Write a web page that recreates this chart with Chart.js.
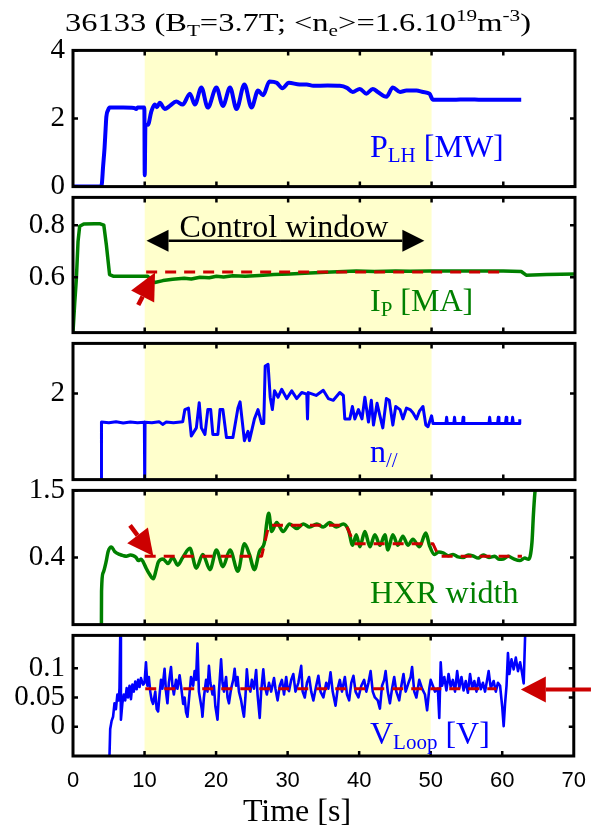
<!DOCTYPE html>
<html><head><meta charset="utf-8">
<script src="https://cdn.jsdelivr.net/npm/chart.js@4/dist/chart.umd.min.js"></script>
<style>
html,body{margin:0;padding:0;background:#fff;}
#wrap{position:relative;width:598px;height:830px;overflow:hidden;font-family:"Liberation Serif","Times New Roman",serif;}
canvas{position:absolute;left:0;}
.lab{position:absolute;white-space:nowrap;font-size:32px;line-height:32px;z-index:5;}
.lab .s{font-size:21px;position:relative;top:5px;}
#title{position:absolute;left:65px;top:10px;font-size:26px;line-height:26px;white-space:nowrap;color:#000;z-index:5;transform:scaleX(1.25);transform-origin:0 0;}
#title .s{font-size:17px;position:relative;top:5px;}
#title .p{font-size:17px;position:relative;top:-10px;}
#xt{position:absolute;left:0;width:594px;text-align:center;top:794px;font-size:32px;line-height:32px;z-index:5;}
</style></head>
<body><div id="wrap">
<div id="title">36133 (B<span class="s">T</span>=3.7T; &lt;n<span class="s">e</span>&gt;=1.6.10<span class="p">19</span>m<span class="p">-3</span>)</div>
<canvas id="c1"></canvas><canvas id="c2"></canvas><canvas id="c3"></canvas><canvas id="c4"></canvas><canvas id="c5"></canvas>
<div class="lab" style="left:370px;top:130px;color:#0000ff">P<span class="s">LH</span> [MW]</div>
<div class="lab" style="left:370px;top:284px;color:#008000">I<span class="s">P</span> [MA]</div>
<div class="lab" style="left:370px;top:435px;color:#0000ff">n<span class="s">//</span></div>
<div class="lab" style="left:370px;top:576px;color:#008000">HXR width</div>
<div class="lab" style="left:370px;top:717px;color:#0000ff">V<span class="s">Loop</span> [V]</div>
<div id="xt">Time [s]</div>
</div>
<script>
// ---------------- DATA ----------------
const xTickValues = [0,10,20,30,40,50,60,70];
const controlWindow = [10, 50];

const ticksPLH = [0,2,4];
const ticksIP = [0.6,0.8];
const ticksNpar = [2];
const ticksHXR = [0.4,1.5];
const ticksVL = [0,0.05,0.1];

const plhT = [0,3.8,4.0,4.2,4.4,4.55,4.65,4.9,5.1,7.0,8.5,8.8,9.0,9.95,10.0,10.1,10.46,10.9,11.4,11.7,12.1,12.8,13.5,14.4,15.3,16.3,17.0,17.9,18.8,20.0,20.9,21.9,22.8,23.9,24.9,25.8,26.5,27.4,28.4,29.2,30.1,31.6,32.6,33.5,35.5,37.2,38.2,39.0,40.0,40.9,41.8,42.5,43.7,44.6,45.6,46.5,47.9,48.8,49.7,50.2,53,55,57,60,62.5];
const plhV = [0,0,0.05,0.6,1.14,1.7,2.05,2.25,2.32,2.32,2.31,2.28,2.32,2.32,0.33,1.8,1.82,2.19,2.41,2.33,2.46,2.28,2.37,2.5,2.41,2.73,2.41,2.91,2.32,2.91,2.37,2.91,2.28,3.0,2.32,2.82,2.68,3.09,3.05,2.89,3.05,3.0,3.0,2.96,2.97,2.96,2.9,2.78,2.87,2.73,2.87,2.78,2.64,2.91,2.78,2.82,2.82,2.78,2.73,2.55,2.55,2.56,2.55,2.55,2.55];

const ipT = [0,0.24,0.47,0.7,0.93,1.5,3.0,3.7,4.3,4.65,5.1,5.6,8,10.4,11.0,11.4,12.55,13.9,15.5,16.5,17.7,19,20,21,22.3,24,26,28,30.2,33,36,39.5,42,45,47,49.7,55,60.0,62.5,63.2,66,70];
const ipV = [0.39,0.50,0.594,0.737,0.796,0.805,0.806,0.806,0.80,0.725,0.61,0.604,0.604,0.604,0.585,0.58,0.587,0.592,0.596,0.593,0.60,0.598,0.604,0.601,0.606,0.604,0.607,0.610,0.612,0.616,0.62,0.624,0.622,0.624,0.623,0.624,0.624,0.624,0.622,0.608,0.61,0.612];
const ipRefT = [10.2,60];
const ipRefV = [0.62,0.62];

const nparT = [3.96,3.97,5,6,7,8,9,9.95,10.0,10.05,11,12,12.5,13,14,15.3,15.6,16.1,16.5,17.2,17.6,17.9,18.4,18.8,19.2,19.5,20.2,20.5,20.9,21.4,22.3,23.0,23.3,23.9,24.4,24.6,25.3,25.8,26.3,26.6,26.8,27.2,27.5,27.8,28.1,28.6,29.1,29.8,30.5,31.2,31.9,32.6,32.7,32.8,33.9,34.9,35.6,36.3,37.2,37.7,37.9,38.6,38.96,39.3,39.8,40.3,40.7,41.2,41.6,41.9,42.4,42.8,43.2,43.7,44.1,44.6,45.0,45.6,46.0,46.5,47.0,47.4,47.9,48.3,48.8,49.2,49.5,50.0,50.2,52.0,52.1,52.2,53.1,53.2,53.3,54.3,54.4,54.5,58.0,58.1,58.2,59.2,59.3,59.4,60.3,60.4,60.5,61.2,61.3,61.4,62.2,62.3];
const nparV = [1.45,1.834,1.83,1.835,1.828,1.834,1.83,1.832,1.45,1.832,1.83,1.836,1.82,1.834,1.83,1.835,1.906,1.915,1.753,1.80,1.946,1.80,1.762,1.906,1.906,1.762,1.762,1.906,1.906,1.744,1.744,1.915,1.951,1.726,1.78,1.726,1.852,1.906,1.825,1.825,2.159,2.168,1.978,1.906,2.015,1.978,2.024,1.97,2.015,1.97,2.005,1.996,1.852,2.005,1.988,2.018,1.97,1.96,2.005,1.988,1.852,1.852,1.924,1.852,1.906,1.852,1.978,1.834,1.96,1.816,1.943,1.87,1.80,1.97,1.96,1.816,1.924,1.906,1.852,1.915,1.906,1.888,1.852,1.897,1.924,1.816,1.807,1.87,1.825,1.825,1.861,1.825,1.825,1.861,1.825,1.825,1.861,1.825,1.825,1.861,1.825,1.825,1.861,1.825,1.825,1.861,1.825,1.825,1.861,1.825,1.825,1.85];

const hxrT = [3.96,3.98,4.2,4.65,4.9,5.35,5.8,6.5,7.0,7.45,8.0,8.4,8.8,9.1,9.5,9.8,10.2,10.7,11.2,11.6,11.9,12.55,13.25,13.9,14.6,15.3,16.3,17.2,18.1,19.1,20.0,20.9,21.9,23.0,23.9,24.6,25.3,26.0,26.7,27.0,27.3,27.7,28.4,29.3,30.2,31.2,32.1,33.0,34.0,34.9,35.8,36.7,37.7,38.4,39.0,39.5,40.0,40.7,41.4,42.1,42.8,43.5,43.9,44.6,45.3,46.0,46.7,47.4,48.3,49.2,49.7,50.4,51.0,51.6,52.3,53.0,53.7,54.4,55.1,55.8,56.5,57.2,58.0,58.8,59.4,60.0,60.7,61.4,62.3,63.0,63.5,64.0,64.2,64.4,64.5];
const hxrV = [-0.75,-0.15,0.15,0.35,0.5,0.574,0.5,0.45,0.43,0.42,0.44,0.43,0.40,0.35,0.37,0.325,0.224,0.12,0.05,0.2,0.325,0.375,0.3,0.4,0.275,0.4,0.55,0.224,0.45,0.2,0.525,0.25,0.525,0.175,0.625,0.45,0.2,0.5,0.65,0.95,1.125,0.825,0.975,0.825,0.95,0.875,0.95,0.9,0.95,0.9,0.975,0.9,0.95,0.85,0.6,0.775,0.575,0.825,0.575,0.775,0.6,0.775,0.525,0.775,0.6,0.75,0.6,0.7,0.575,0.8,0.6,0.45,0.49,0.475,0.43,0.45,0.41,0.4,0.44,0.425,0.39,0.44,0.4,0.42,0.37,0.375,0.42,0.38,0.35,0.39,0.37,0.65,1.1,1.45,1.55];
const hxrRefT = [10,26.3,27.3,38.1,39.2,50.2,51.0,62.6];
const hxrRefV = [0.42,0.42,0.93,0.93,0.625,0.625,0.42,0.42];

const vlT = [5.1,5.2,5.4,5.6,5.8,6.0,6.2,6.4,6.5,6.6,6.7,6.9,7.1,7.3,7.5,7.7,7.9,8.1,8.3,8.5,8.7,8.9,9.1,9.3,9.5,9.8,10.0,10.2,10.4,10.6,10.8,11.0,11.2,11.5,11.7,11.9,12.1,12.3,12.5,12.8,13.0,13.2,13.4,13.7,13.9,14.1,14.4,14.6,14.9,15.1,15.4,15.6,15.8,16.0,16.2,16.5,16.8,17.0,17.2,17.4,17.6,17.8,18.0,18.1,18.3,18.6,18.8,19.0,19.2,19.5,19.7,19.9,20.2,20.4,20.7,20.9,21.1,21.4,21.6,21.8,22.1,22.4,22.6,22.8,23.0,23.2,23.5,23.7,23.9,24.1,24.3,24.5,24.8,25.0,25.3,25.6,25.8,26.1,26.3,26.6,26.8,27.1,27.4,27.7,28.1,28.3,28.6,28.9,29.2,29.5,29.8,30.0,30.2,30.5,30.8,31.1,31.5,31.9,32.1,32.4,32.7,33.0,33.3,33.6,34.0,34.3,34.6,35.0,35.4,35.7,36.0,36.3,36.7,37.0,37.3,37.6,38.0,38.3,38.6,38.9,39.2,39.5,39.9,40.3,40.7,41.0,41.3,41.6,41.9,42.2,42.6,42.9,43.2,43.5,43.7,44.0,44.3,44.6,44.9,45.2,45.6,45.9,46.2,46.5,46.9,47.2,47.4,47.7,48.0,48.4,48.8,49.2,49.5,49.8,50.0,50.3,50.6,51.0,51.2,51.4,51.6,51.9,52.2,52.5,52.8,53.1,53.4,53.7,54.0,54.3,54.6,54.9,55.2,55.5,55.8,56.1,56.4,56.7,57.0,57.3,57.6,58.1,58.4,58.8,59.1,59.4,59.7,60.0,60.2,60.4,60.6,60.8,61.0,61.3,61.6,61.9,62.2,62.5,62.8,63.0,63.2];
const vlV = [-0.05,-0.004,0.010,0.017,0.040,0.030,0.055,0.045,0.066,0.153,0.012,0.040,0.055,0.045,0.066,0.050,0.070,0.047,0.072,0.060,0.077,0.064,0.080,0.068,0.083,0.072,0.075,0.110,0.070,0.085,0.060,0.045,0.039,0.060,0.030,0.026,0.055,0.080,0.065,0.099,0.060,0.040,0.075,0.102,0.070,0.055,0.080,0.065,0.088,0.070,0.039,0.050,0.025,0.017,0.045,0.085,0.070,0.095,0.080,0.142,0.060,0.045,0.030,0.017,0.050,0.080,0.060,0.104,0.075,0.055,0.070,0.035,0.012,0.060,0.115,0.075,0.060,0.085,0.050,0.040,0.065,0.080,0.099,0.070,0.085,0.060,0.045,0.030,0.017,0.050,0.098,0.070,0.060,0.080,0.065,0.097,0.055,0.015,0.060,0.098,0.070,0.055,0.075,0.060,0.083,0.065,0.045,0.070,0.080,0.055,0.085,0.065,0.061,0.080,0.090,0.060,0.075,0.104,0.060,0.050,0.075,0.085,0.060,0.045,0.070,0.087,0.060,0.050,0.075,0.065,0.093,0.060,0.036,0.065,0.080,0.060,0.085,0.055,0.045,0.075,0.087,0.060,0.050,0.070,0.080,0.060,0.075,0.095,0.060,0.050,0.045,0.031,0.070,0.080,0.095,0.060,0.040,0.065,0.085,0.060,0.045,0.070,0.090,0.060,0.075,0.085,0.102,0.060,0.050,0.080,0.065,0.055,0.028,0.065,0.080,0.070,0.060,0.065,0.015,0.110,0.070,0.085,0.062,0.090,0.068,0.080,0.060,0.095,0.066,0.085,0.062,0.078,0.058,0.090,0.066,0.078,0.060,0.083,0.064,0.075,0.060,0.095,0.066,0.078,0.060,0.075,0.070,0.034,0.001,0.040,0.070,0.126,0.090,0.115,0.098,0.118,0.095,0.110,0.090,0.074,0.155];
const vlRefT = [10.1,59.2];
const vlRefV = [0.0647,0.0647];

// ---------------- STYLE / LAYOUT ----------------
const BLUE = '#0000ff', GREEN = '#008000', RED = '#cc0000', YELLOW = '#ffffcc';
const SERIF = '"Liberation Serif","Times New Roman",serif';
const SANS = '"Liberation Sans",Arial,sans-serif';
const PAD = 20, W = 598, RIGHT_PAD = 23, YAXIS_W = 73;

const pts = (t, v) => t.map((x, i) => ({x, y: v[i]}));

function drawArrow(ctx, x1, y1, x2, y2, headLen, headHalf, lw, color) {
  const a = Math.atan2(y2 - y1, x2 - x1);
  const bx = x2 - headLen * Math.cos(a), by = y2 - headLen * Math.sin(a);
  ctx.save();
  ctx.strokeStyle = color; ctx.fillStyle = color; ctx.lineWidth = lw;
  ctx.beginPath(); ctx.moveTo(x1, y1); ctx.lineTo(bx, by); ctx.stroke();
  ctx.beginPath();
  ctx.moveTo(x2, y2);
  ctx.lineTo(bx + headHalf * Math.sin(a), by - headHalf * Math.cos(a));
  ctx.lineTo(bx - headHalf * Math.sin(a), by + headHalf * Math.cos(a));
  ctx.closePath(); ctx.fill();
  ctx.restore();
}

const bandPlugin = {
  id: 'band',
  beforeDatasetsDraw(chart) {
    const {ctx, chartArea: a, scales: {x}} = chart;
    ctx.save();
    ctx.fillStyle = YELLOW;
    const x0 = x.getPixelForValue(controlWindow[0]), x1 = x.getPixelForValue(controlWindow[1]);
    ctx.fillRect(x0, a.top, x1 - x0, a.bottom - a.top);
    ctx.restore();
  }
};

const framePlugin = {
  id: 'frame',
  afterDatasetsDraw(chart) {
    const {ctx, chartArea: a, scales: {x, y}} = chart;
    ctx.save();
    ctx.strokeStyle = '#000'; ctx.lineWidth = 2.5;
    ctx.beginPath();
    xTickValues.slice(1, -1).forEach(v => {
      const px = x.getPixelForValue(v);
      ctx.moveTo(px, a.top); ctx.lineTo(px, a.top + 5);
      ctx.moveTo(px, a.bottom); ctx.lineTo(px, a.bottom - 5);
    });
    y.ticks.forEach(t => {
      const py = y.getPixelForValue(t.value);
      ctx.moveTo(a.left, py); ctx.lineTo(a.left + 5, py);
      ctx.moveTo(a.right, py); ctx.lineTo(a.right - 5, py);
    });
    ctx.stroke();
    ctx.lineWidth = 3;
    ctx.strokeRect(a.left, a.top, a.right - a.left, a.bottom - a.top);
    ctx.restore();
  }
};

const smooth = {cubicInterpolationMode:'monotone', tension:0.4};

const panels = [
  {id:'c1', top:45, bottom:192, min:0, max:4, ticks:ticksPLH,
   datasets:[Object.assign({data:pts(plhT, plhV), borderColor:BLUE, borderWidth:4}, smooth)]},
  {id:'c2', top:192, bottom:338, min:0.387, max:0.907, ticks:ticksIP,
   datasets:[{data:pts(ipRefT, ipRefV), borderColor:RED, borderWidth:3, borderDash:[11,8]},
             {data:pts(ipT, ipV), borderColor:GREEN, borderWidth:3.5}],
   extra(chart) {
     const {ctx, scales:{x, y}} = chart;
     const yA = y.getPixelForValue(0.74);
     drawArrow(ctx, x.getPixelForValue(29), yA, x.getPixelForValue(10.25), yA, 22, 11, 2.5, '#000');
     drawArrow(ctx, x.getPixelForValue(29), yA, x.getPixelForValue(49.0), yA, 22, 11, 2.5, '#000');
     ctx.save(); ctx.fillStyle = '#000'; ctx.font = '32px ' + SERIF; ctx.textAlign = 'center'; ctx.textBaseline = 'alphabetic';
     ctx.fillText('Control window', x.getPixelForValue(29.4), y.getPixelForValue(0.755));
     ctx.restore();
     drawArrow(ctx, x.getPixelForValue(9.1), y.getPixelForValue(0.493), x.getPixelForValue(11.44), y.getPixelForValue(0.618), 27, 13, 4.5, RED);
   }},
  {id:'c3', top:338, bottom:485, min:1.5, max:2.29, ticks:ticksNpar,
   datasets:[{data:pts(nparT, nparV), borderColor:BLUE, borderWidth:3}]},
  {id:'c4', top:485, bottom:630, min:-0.7, max:1.5, ticks:ticksHXR,
   datasets:[{data:pts(hxrRefT, hxrRefV), borderColor:RED, borderWidth:3, borderDash:[11,8]},
             Object.assign({data:pts(hxrT, hxrV), borderColor:GREEN, borderWidth:3.5}, smooth)],
   extra(chart) {
     const {ctx, scales:{x, y}} = chart;
     drawArrow(ctx, x.getPixelForValue(7.95), y.getPixelForValue(0.925), x.getPixelForValue(11.2), y.getPixelForValue(0.424), 26, 13, 4.5, RED);
   }},
  {id:'c5', top:630, bottom:756, min:-0.05, max:0.156, ticks:ticksVL, last:true,
   datasets:[{data:pts(vlRefT, vlRefV), borderColor:RED, borderWidth:3, borderDash:[11,8]},
             {data:pts(vlT, vlV), borderColor:BLUE, borderWidth:2.6}],
   extra(chart) {
     const {ctx, scales:{x, y}} = chart;
     drawArrow(ctx, x.getPixelForValue(72.4), y.getPixelForValue(0.0635), x.getPixelForValue(62.6), y.getPixelForValue(0.0635), 25, 13, 4, RED);
   }}
];

panels.forEach(p => {
  const cv = document.getElementById(p.id);
  const top = p.top - PAD;
  const h = p.last ? 830 - top : (p.bottom - p.top) + 2 * PAD;
  cv.width = W; cv.height = h;
  cv.style.top = top + 'px'; cv.style.width = W + 'px'; cv.style.height = h + 'px';
  const extraPlugin = {id:'extra', afterDraw(chart) { if (p.extra) p.extra(chart); }};
  new Chart(cv, {
    type: 'line',
    data: {datasets: p.datasets.map(d => Object.assign({pointRadius:0, tension:0, fill:false, borderJoinStyle:'round', borderCapStyle:'butt'}, d))},
    options: {
      responsive:false, animation:false, devicePixelRatio:1, events:[],
      layout:{padding:{left:0, right:RIGHT_PAD, top:PAD, bottom: p.last ? 0 : PAD}},
      plugins:{legend:{display:false}, tooltip:{enabled:false}},
      scales:{
        x:{type:'linear', min:0, max:70, display: !!p.last,
           grid:{display:false, drawTicks:false}, border:{display:false},
           afterBuildTicks: s => { s.ticks = xTickValues.map(v => ({value:v})); },
           ticks:{font:{family:SANS, size:22}, color:'#000', padding:12, maxRotation:0, autoSkip:false, callback: v => String(v)},
           afterFit: s => { s.height = p.last ? 74 : 0; }},
        y:{type:'linear', min:p.min, max:p.max,
           grid:{display:false, drawTicks:false}, border:{display:false},
           afterBuildTicks: s => { s.ticks = p.ticks.map(v => ({value:v})); },
           ticks:{font:{family:SERIF, size:29}, color:'#000', padding:8, autoSkip:false, callback: v => String(v)},
           afterFit: s => { s.width = YAXIS_W; }}
      }
    },
    plugins:[bandPlugin, framePlugin, extraPlugin]
  });
});
</script>
</body></html>
